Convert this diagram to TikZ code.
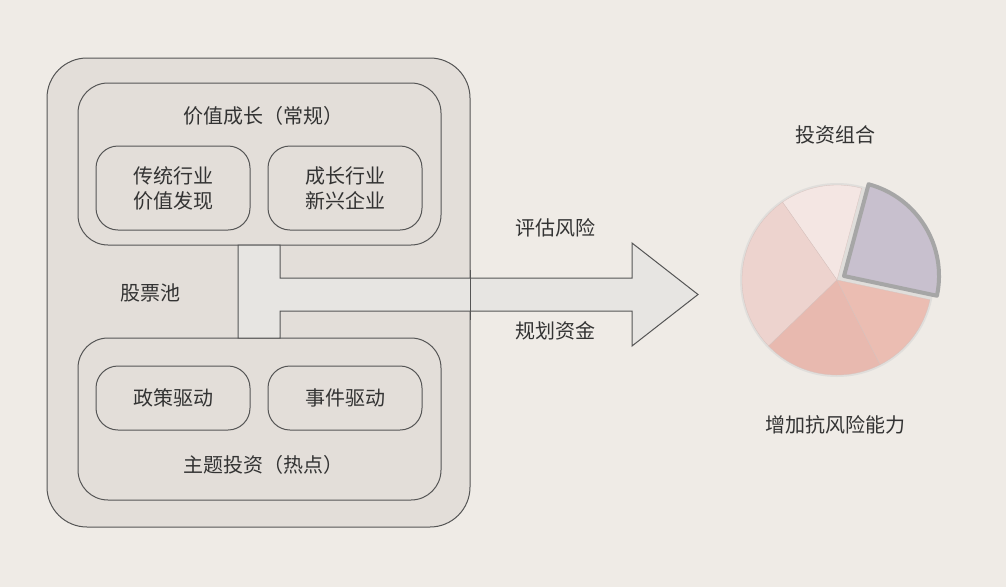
\documentclass[tikz,border=0pt]{standalone}
\usepackage{fontspec}
\newfontfamily\cjk{Noto Sans CJK SC}
\definecolor{bg}{HTML}{EFEBE6}
\definecolor{boxf}{HTML}{E3DED9}
\definecolor{arrf}{HTML}{E7E5E2}
\definecolor{ln}{HTML}{555555}
\definecolor{tx}{HTML}{333333}
\definecolor{pa}{HTML}{F4E6E3}
\definecolor{pb}{HTML}{EDD3CE}
\definecolor{pc}{HTML}{E8B9AF}
\definecolor{pd}{HTML}{EBBDB2}
\definecolor{pe}{HTML}{C8C0CE}
\tikzset{
 frame/.style={draw=ln,line width=1pt,fill=boxf,rounded corners=#1},
 lbl/.style={text=tx,font=\cjk\fontsize{20}{25}\selectfont,align=center},
 slice/.style={draw=pb!80!gray,line width=0.3pt}
}
\begin{document}
\begin{tikzpicture}[x=1pt,y=-1pt]
\fill[bg] (0,0) rectangle (1006,587);
\useasboundingbox (0,0) rectangle (1006,587);
\node[frame=40pt,minimum width=423pt,minimum height=469pt,inner sep=0] (outer) at (258.5,292.5) {};
\node[frame=30pt,minimum width=363pt,minimum height=162pt,inner sep=0] (top) at (259.5,164) {};
\node[frame=30pt,minimum width=363pt,minimum height=162pt,inner sep=0] (bot) at (259.5,419) {};
\draw[ln,line width=1pt,fill=arrf] (238,245) -- (280,245) -- (280,278) -- (632,278) -- (632,243) -- (698,294.5) -- (632,346) -- (632,311) -- (280,311) -- (280,338) -- (238,338) -- cycle;
\draw[ln,line width=1pt] (470,270) -- (470,320);
\node[frame=22pt,minimum width=154pt,minimum height=84pt,inner sep=0,lbl] (b1) at (173,188) {传统行业\\价值发现};
\node[frame=22pt,minimum width=154pt,minimum height=84pt,inner sep=0,lbl] (b2) at (345,188) {成长行业\\新兴企业};
\node[frame=22pt,minimum width=154pt,minimum height=64pt,inner sep=0,lbl] (b3) at (173,398) {政策驱动};
\node[frame=22pt,minimum width=154pt,minimum height=64pt,inner sep=0,lbl] (b4) at (345,398) {事件驱动};
\node[lbl] (t1) at (263,116) {价值成长（常规）};
\node[lbl] (t2) at (263,465) {主题投资（热点）};
\node[lbl] (pool) at (150,293) {股票池};
\node[lbl] (r1) at (555,228) {评估风险};
\node[lbl] (r2) at (555,331) {规划资金};
\node[lbl] (pt) at (835,135) {投资组合};
\node[lbl] (pb) at (835,425) {增加抗风险能力};
\coordinate (c) at (837,280);
\begin{scope}[shift={(c)},yscale=-1]
\def\R{95}
\fill[gray!35,opacity=0.5] (0,0) circle (97);
\filldraw[slice,fill=pa] (0,0) -- (75:\R) arc[start angle=75,end angle=125,radius=\R] -- cycle;
\filldraw[slice,fill=pb] (0,0) -- (125:\R) arc[start angle=125,end angle=224,radius=\R] -- cycle;
\filldraw[slice,fill=pc] (0,0) -- (224:\R) arc[start angle=224,end angle=297,radius=\R] -- cycle;
\filldraw[slice,fill=pd] (0,0) -- (297:\R) arc[start angle=297,end angle=348,radius=\R] -- cycle;
\begin{scope}[shift={(7,4)}]
\filldraw[draw=gray!70,line width=4pt,line join=round,fill=pe] (0,0) -- (-12:\R) arc[start angle=-12,end angle=75,radius=\R] -- cycle;
\end{scope}
\end{scope}
\end{tikzpicture}
\end{document}
